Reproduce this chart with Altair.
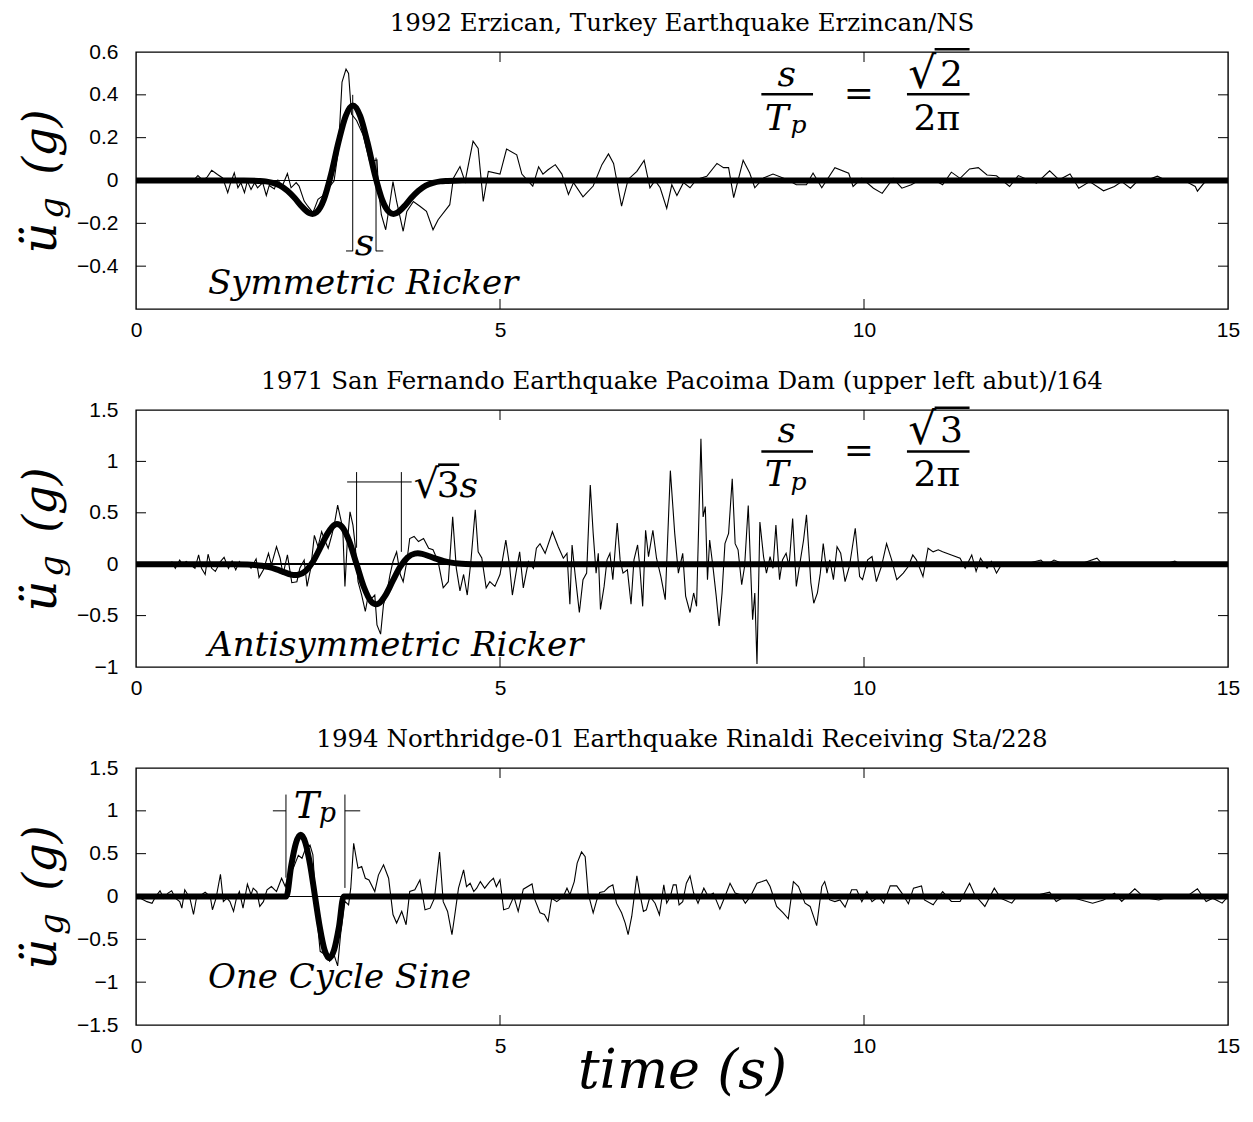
import altair as alt
import pandas as pd

# ---------------------------------------------------------------- axes
TIME_DOMAIN = [0, 15]
TIME_LABELS = [0, 5, 10, 15]
TIME_TICKS = [5, 10]

TITLES = [
    "1992 Erzican, Turkey Earthquake Erzincan/NS",
    "1971 San Fernando Earthquake Pacoima Dam (upper left abut)/164",
    "1994 Northridge-01 Earthquake Rinaldi Receiving Sta/228",
]
ACC_DOMAINS = [[-0.6, 0.6], [-1.0, 1.5], [-1.5, 1.5]]
ACC_LABELS = [
    [-0.4, -0.2, 0, 0.2, 0.4, 0.6],
    [-1, -0.5, 0, 0.5, 1, 1.5],
    [-1.5, -1, -0.5, 0, 0.5, 1, 1.5],
]
ACC_TICKS = [
    [-0.4, -0.2, 0, 0.2, 0.4],
    [-0.5, 0, 0.5, 1],
    [-1, -0.5, 0, 0.5, 1],
]

# ------------------------------------------------- recorded ground motion (t [s], a [g])
ERZ_RECORD = [
    (0.57, 0.0), (0.69, 0.008), (0.78, -0.003), (0.85, 0.023), (0.92, 0.0), (0.98, 0.017),
    (1.04, 0.048), (1.12, 0.028), (1.19, 0.012), (1.26, -0.057), (1.30, -0.01), (1.35, 0.036),
    (1.40, -0.034), (1.44, -0.01), (1.49, -0.057), (1.53, -0.003), (1.58, -0.042), (1.63, -0.01),
    (1.67, -0.034), (1.74, -0.01), (1.79, -0.07), (1.83, -0.023), (1.90, -0.039), (1.95, 0.002),
    (2.01, -0.026), (2.08, 0.033), (2.13, -0.034), (2.20, -0.01), (2.24, -0.026), (2.31, -0.096),
    (2.36, -0.12), (2.43, -0.15), (2.50, -0.088), (2.56, -0.073), (2.63, -0.042), (2.72, -0.003),
    (2.78, 0.14), (2.83, 0.46), (2.885, 0.52), (2.92, 0.50), (2.96, 0.31), (3.03, 0.28),
    (3.12, 0.212), (3.21, 0.088), (3.31, 0.096), (3.33, -0.036), (3.37, -0.16), (3.43, -0.23),
    (3.49, -0.098), (3.53, -0.005), (3.58, -0.098), (3.67, -0.237), (3.72, -0.144), (3.81, -0.098),
    (3.90, -0.12), (3.99, -0.144), (4.08, -0.23), (4.15, -0.183), (4.31, -0.113), (4.36, 0.011),
    (4.45, 0.065), (4.52, -0.005), (4.63, 0.184), (4.70, 0.15), (4.77, -0.098), (4.84, 0.042),
    (5.00, 0.03), (5.09, 0.147), (5.23, 0.12), (5.30, 0.03), (5.45, -0.026), (5.53, 0.064),
    (5.59, 0.03), (5.66, 0.05), (5.76, 0.074), (5.85, 0.03), (5.94, -0.065), (6.01, -0.01),
    (6.14, -0.076), (6.28, -0.026), (6.40, 0.074), (6.49, 0.124), (6.56, 0.08), (6.67, -0.12),
    (6.76, 0.005), (6.88, 0.043), (6.98, 0.094), (7.06, -0.034), (7.13, 0.0), (7.20, -0.034),
    (7.29, -0.13), (7.36, -0.02), (7.43, -0.07), (7.52, -0.01), (7.61, -0.034), (7.70, 0.005),
    (7.84, 0.02), (7.98, 0.08), (8.07, 0.06), (8.14, 0.06), (8.21, -0.08), (8.34, 0.094),
    (8.43, 0.035), (8.50, -0.034), (8.62, 0.012), (8.75, 0.03), (8.94, 0.005), (9.07, -0.02),
    (9.21, -0.02), (9.30, 0.035), (9.42, -0.034), (9.60, 0.06), (9.79, 0.034), (9.85, -0.028),
    (9.97, 0.01), (10.13, -0.036), (10.25, -0.06), (10.40, 0.01), (10.52, -0.036), (10.65, -0.02),
    (10.77, 0.003), (10.96, 0.003), (11.08, -0.02), (11.20, 0.039), (11.32, 0.01), (11.45, 0.054),
    (11.57, 0.06), (11.69, 0.026), (11.82, 0.022), (12.00, -0.028), (12.12, 0.023), (12.25, 0.003),
    (12.37, -0.012), (12.55, 0.045), (12.68, 0.003), (12.83, 0.03), (12.95, -0.036), (13.10, -0.005),
    (13.29, -0.048), (13.44, -0.028), (13.54, -0.005), (13.66, -0.036), (13.75, -0.005), (13.90, 0.003),
    (14.03, 0.02), (14.15, 0.0), (14.40, 0.0), (14.55, -0.028), (14.58, -0.05), (14.67, -0.012),
    (14.76, 0.0),
]

PAC_RECORD = [
    (0.49, 0.026), (0.54, -0.04), (0.60, 0.04), (0.64, -0.005), (0.69, 0.026), (0.81, -0.04),
    (0.86, 0.09), (0.90, -0.04), (0.95, -0.10), (0.99, 0.097), (1.04, -0.04), (1.09, -0.07),
    (1.16, 0.026), (1.21, 0.068), (1.27, -0.04), (1.32, 0.03), (1.37, -0.055), (1.42, 0.026),
    (1.47, -0.02), (1.54, 0.0), (1.58, -0.04), (1.65, 0.052), (1.69, -0.13), (1.75, -0.055),
    (1.82, 0.106), (1.86, -0.006), (1.93, 0.17), (1.98, 0.058), (2.02, -0.10), (2.08, 0.09),
    (2.14, -0.18), (2.21, -0.17), (2.25, -0.04), (2.31, 0.04), (2.35, -0.216), (2.40, -0.04),
    (2.45, 0.28), (2.50, 0.17), (2.55, 0.316), (2.60, 0.22), (2.64, 0.155), (2.69, 0.284),
    (2.73, 0.41), (2.77, 0.574), (2.81, 0.445), (2.84, 0.35), (2.87, -0.216), (2.90, 0.19),
    (2.94, 0.51), (2.98, 0.38), (3.01, 0.19), (3.05, -0.17), (3.10, -0.30), (3.15, -0.46),
    (3.19, -0.30), (3.24, -0.33), (3.28, -0.30), (3.31, -0.59), (3.36, -0.68), (3.40, -0.39),
    (3.44, -0.30), (3.49, -0.10), (3.53, 0.026), (3.58, 0.12), (3.63, -0.10), (3.67, -0.17),
    (3.72, 0.026), (3.76, 0.25), (3.82, 0.27), (3.88, 0.22), (3.95, 0.25), (4.02, 0.155),
    (4.08, 0.14), (4.15, 0.026), (4.22, -0.23), (4.29, -0.17), (4.35, 0.46), (4.40, -0.04),
    (4.45, -0.26), (4.50, -0.10), (4.55, -0.30), (4.60, 0.026), (4.66, 0.53), (4.70, 0.12),
    (4.75, 0.06), (4.81, -0.23), (4.86, -0.17), (4.93, -0.216), (5.00, -0.10), (5.08, 0.235),
    (5.13, -0.006), (5.17, -0.30), (5.23, -0.04), (5.27, 0.12), (5.32, -0.23), (5.39, 0.026),
    (5.46, -0.04), (5.50, 0.155), (5.55, 0.20), (5.62, 0.106), (5.72, 0.316), (5.80, 0.17),
    (5.87, 0.058), (5.92, 0.106), (5.96, -0.39), (5.99, 0.187), (6.03, -0.087), (6.09, -0.47),
    (6.14, -0.15), (6.19, -0.087), (6.24, 0.77), (6.28, 0.30), (6.32, -0.087), (6.35, 0.106),
    (6.38, -0.44), (6.43, -0.216), (6.47, 0.042), (6.51, 0.106), (6.55, -0.15), (6.61, 0.40),
    (6.65, 0.042), (6.69, -0.087), (6.75, -0.055), (6.80, -0.39), (6.84, 0.042), (6.89, 0.187),
    (6.92, -0.02), (6.96, -0.41), (7.00, 0.33), (7.04, 0.074), (7.10, 0.33), (7.15, 0.058),
    (7.21, -0.12), (7.27, -0.345), (7.34, 0.91), (7.40, 0.30), (7.45, -0.087), (7.51, 0.106),
    (7.55, -0.31), (7.61, -0.47), (7.66, -0.28), (7.70, -0.41), (7.76, 1.22), (7.79, 0.46),
    (7.82, 0.56), (7.85, -0.15), (7.88, 0.235), (7.93, -0.055), (7.97, -0.31), (8.01, -0.60),
    (8.05, -0.28), (8.09, 0.20), (8.14, 0.30), (8.19, 0.83), (8.23, 0.20), (8.27, 0.14),
    (8.32, -0.20), (8.36, -0.02), (8.41, 0.57), (8.47, -0.54), (8.50, -0.28), (8.53, -0.97),
    (8.57, 0.41), (8.62, 0.074), (8.66, -0.087), (8.71, 0.074), (8.75, -0.04), (8.79, 0.38),
    (8.84, -0.15), (8.88, 0.042), (8.93, 0.106), (8.97, -0.02), (9.02, 0.445), (9.07, -0.216),
    (9.12, 0.01), (9.17, 0.235), (9.21, 0.48), (9.27, -0.18), (9.31, -0.38), (9.36, -0.28),
    (9.40, -0.087), (9.44, 0.20), (9.49, -0.087), (9.53, 0.042), (9.58, -0.15), (9.63, 0.17),
    (9.68, 0.106), (9.74, -0.17), (9.80, -0.02), (9.88, 0.35), (9.94, -0.12), (9.98, -0.15),
    (10.05, 0.042), (10.11, 0.074), (10.17, -0.17), (10.24, -0.02), (10.31, 0.20), (10.38, 0.042),
    (10.45, -0.15), (10.54, -0.087), (10.61, -0.02), (10.67, 0.09), (10.72, 0.042), (10.81, -0.12),
    (10.88, 0.155), (10.95, 0.12), (11.02, 0.14), (11.08, 0.12), (11.20, 0.09), (11.32, 0.058),
    (11.39, -0.04), (11.48, 0.09), (11.54, -0.07), (11.60, 0.058), (11.69, -0.04), (11.75, 0.026),
    (11.82, -0.087), (11.90, 0.01), (12.06, -0.013), (12.20, 0.0), (12.43, 0.04), (12.50, -0.01),
    (12.61, 0.04), (12.75, 0.0), (13.00, 0.01), (13.20, 0.058), (13.30, -0.02), (13.60, 0.0),
    (14.02, -0.02), (14.27, 0.03), (14.40, -0.02),
]

RRS_RECORD = [
    (0.01, 0.0), (0.06, -0.02), (0.15, -0.06), (0.22, -0.08), (0.27, 0.0), (0.33, 0.066),
    (0.38, -0.02), (0.44, 0.04), (0.49, 0.066), (0.54, -0.02), (0.60, -0.06), (0.63, -0.136),
    (0.67, 0.078), (0.74, -0.02), (0.79, -0.21), (0.83, -0.02), (0.95, 0.05), (1.02, 0.0),
    (1.05, -0.155), (1.10, -0.02), (1.16, 0.26), (1.20, -0.06), (1.25, -0.02), (1.29, -0.06),
    (1.34, -0.174), (1.38, -0.02), (1.42, 0.058), (1.47, -0.136), (1.53, 0.143), (1.58, 0.02),
    (1.61, 0.097), (1.66, 0.058), (1.70, -0.116), (1.75, -0.06), (1.80, 0.078), (1.86, 0.116),
    (1.93, 0.058), (2.00, 0.213), (2.05, 0.116), (2.09, 0.25), (2.16, 0.33), (2.23, 0.48),
    (2.28, 0.446), (2.32, 0.54), (2.39, 0.60), (2.43, 0.485), (2.48, -0.21), (2.53, -0.64),
    (2.60, -0.68), (2.66, -0.756), (2.72, -0.68), (2.77, -0.81), (2.81, -0.446), (2.87, -0.058),
    (2.92, -0.097), (2.95, 0.097), (2.99, 0.62), (3.05, 0.33), (3.10, 0.35), (3.15, 0.213),
    (3.20, 0.194), (3.28, 0.058), (3.33, 0.25), (3.40, 0.37), (3.47, 0.213), (3.53, -0.21),
    (3.58, -0.31), (3.65, -0.174), (3.71, -0.33), (3.76, 0.058), (3.83, 0.078), (3.90, 0.194),
    (3.97, -0.155), (4.04, -0.136), (4.10, -0.02), (4.17, 0.52), (4.22, -0.06), (4.28, -0.174),
    (4.34, -0.446), (4.38, -0.21), (4.43, 0.097), (4.50, 0.31), (4.54, 0.116), (4.59, 0.155),
    (4.64, 0.058), (4.68, 0.097), (4.73, 0.174), (4.79, 0.097), (4.86, 0.174), (4.91, 0.213),
    (4.95, 0.116), (5.00, 0.194), (5.05, -0.155), (5.12, -0.136), (5.19, 0.0), (5.25, -0.174),
    (5.32, 0.085), (5.44, 0.147), (5.48, -0.04), (5.55, -0.19), (5.61, -0.21), (5.66, -0.29),
    (5.71, -0.02), (5.78, -0.06), (5.87, 0.0), (5.92, 0.097), (5.96, 0.02), (6.02, 0.174),
    (6.06, 0.39), (6.12, 0.52), (6.17, 0.465), (6.21, 0.04), (6.28, -0.19), (6.33, -0.04),
    (6.37, 0.047), (6.43, 0.058), (6.49, 0.108), (6.55, 0.136), (6.60, -0.078), (6.67, -0.19),
    (6.72, -0.31), (6.76, -0.446), (6.81, -0.23), (6.88, 0.24), (6.92, 0.04), (6.97, -0.174),
    (7.01, -0.155), (7.06, 0.0), (7.13, -0.078), (7.19, -0.213), (7.25, 0.136), (7.29, -0.078),
    (7.34, 0.0), (7.38, 0.136), (7.42, 0.136), (7.46, -0.097), (7.51, -0.06), (7.56, 0.155),
    (7.61, 0.24), (7.66, 0.04), (7.72, -0.078), (7.80, 0.097), (7.86, 0.0), (7.93, 0.04),
    (8.02, -0.147), (8.09, 0.0), (8.16, 0.155), (8.23, 0.04), (8.30, 0.02), (8.37, -0.078),
    (8.44, 0.0), (8.53, 0.155), (8.60, 0.174), (8.66, 0.194), (8.71, 0.116), (8.80, -0.116),
    (8.89, -0.19), (8.96, -0.26), (9.03, 0.174), (9.10, 0.116), (9.19, -0.078), (9.26, -0.116),
    (9.35, -0.34), (9.42, 0.116), (9.46, 0.174), (9.53, -0.04), (9.60, -0.06), (9.67, -0.04),
    (9.74, -0.124), (9.83, 0.078), (9.90, 0.078), (9.97, -0.06), (10.04, 0.058), (10.11, -0.06),
    (10.20, 0.0), (10.27, -0.078), (10.36, 0.124), (10.45, 0.124), (10.52, 0.04), (10.61, -0.085),
    (10.68, 0.097), (10.79, 0.124), (10.83, -0.04), (10.95, -0.097), (11.08, 0.058), (11.20, -0.058),
    (11.32, -0.058), (11.45, 0.155), (11.52, 0.02), (11.66, -0.116), (11.79, 0.097), (11.88, -0.02),
    (12.03, -0.078), (12.12, 0.02), (12.30, 0.0), (12.55, 0.05), (12.64, -0.058), (12.76, 0.0),
    (12.92, -0.027), (13.14, -0.078), (13.29, -0.04), (13.44, 0.039), (13.54, -0.058), (13.72, 0.09),
    (13.81, 0.02), (13.90, -0.02), (14.05, -0.04), (14.21, 0.0), (14.40, -0.02), (14.58, 0.09),
    (14.70, -0.058), (14.79, -0.02), (14.92, -0.078), (15.00, 0.0),
]

# ------------------------------------------------- idealised pulses (t [s], a [g])
ERZ_PULSE = [
    (0.0, 0.0), (1.48, 0.0), (1.68, -0.002), (1.78, -0.004), (1.88, -0.011), (1.98, -0.024),
    (2.08, -0.048), (2.18, -0.082), (2.28, -0.122), (2.38, -0.152), (2.423, -0.156), (2.48, -0.148),
    (2.58, -0.089), (2.68, 0.029), (2.78, 0.177), (2.88, 0.301), (2.98, 0.350), (3.08, 0.301),
    (3.18, 0.177), (3.28, 0.029), (3.38, -0.089), (3.48, -0.148), (3.537, -0.156), (3.58, -0.152),
    (3.68, -0.122), (3.78, -0.082), (3.88, -0.048), (3.98, -0.024), (4.08, -0.011), (4.18, -0.004),
    (4.28, -0.002), (4.48, 0.0), (15.0, 0.0),
]
PAC_PULSE = [
    (0.0, 0.0), (1.33, 0.0), (1.53, -0.003), (1.63, -0.007), (1.73, -0.015), (1.83, -0.029),
    (1.93, -0.051), (2.03, -0.077), (2.13, -0.101), (2.19, -0.106), (2.23, -0.103), (2.33, -0.066),
    (2.43, 0.024), (2.53, 0.158), (2.63, 0.298), (2.73, 0.384), (2.76, 0.390), (2.83, 0.363),
    (2.93, 0.222), (3.03, 0.0), (3.13, -0.222), (3.23, -0.363), (3.30, -0.390), (3.33, -0.384),
    (3.43, -0.298), (3.53, -0.158), (3.63, -0.024), (3.73, 0.066), (3.83, 0.103), (3.87, 0.106),
    (3.93, 0.101), (4.03, 0.077), (4.13, 0.051), (4.23, 0.029), (4.33, 0.015), (4.43, 0.007),
    (4.53, 0.003), (4.73, 0.0), (15.0, 0.0),
]
RRS_PULSE = [
    (0.0, 0.0), (2.066, 0.0), (2.132, 0.36), (2.197, 0.624), (2.263, 0.72), (2.328, 0.624),
    (2.394, 0.36), (2.459, 0.0), (2.525, -0.36), (2.590, -0.624), (2.656, -0.72), (2.721, -0.624),
    (2.787, -0.36), (2.852, 0.0), (15.0, 0.0),
]

# ------------------------------------------------- styling
PLOT_W, PLOT_H = 1092, 257
TICK_PX = 10
SERIF = "DejaVu Serif"
SANS = "Liberation Sans"

# annotations per panel, in data units
# lines: (t, g, t2, g2, width)
# texts: (t, g, text, fontsize, style, align)
ANNOT = [
    {
        "lines": [
            (2.977, 0.40, 2.977, -0.33, 1), (3.297, 0.107, 3.297, -0.33, 1),
            (2.885, -0.329, 2.977, -0.329, 1), (3.297, -0.329, 3.397, -0.329, 1),
            (8.59, 0.403, 9.30, 0.403, 2.6), (10.59, 0.403, 11.45, 0.403, 2.6),
            (10.97, 0.613, 11.45, 0.613, 2.6),
        ],
        "texts": [
            (3.14, -0.35, "s", 38, "italic", "center"),
            (0.99, -0.53, "Symmetric Ricker", 34, "italic", "left"),
            (8.94, 0.439, "s", 36, "italic", "center"),
            (8.80, 0.237, "T", 36, "italic", "center"),
            (9.10, 0.223, "p", 25, "italic", "center"),
            (9.93, 0.353, "=", 36, "normal", "center"),
            (10.80, 0.43, "\u221a", 44, "normal", "center"),
            (11.20, 0.439, "2", 36, "normal", "center"),
            (11.00, 0.237, "2\u03c0", 36, "normal", "center"),
        ],
    },
    {
        "lines": [
            (3.03, 0.896, 3.03, 0.16, 1), (3.645, 0.896, 3.645, 0.12, 1),
            (2.90, 0.80, 3.787, 0.80, 1),
            (4.15, 0.968, 4.44, 0.968, 2.6),
            (8.59, 1.097, 9.30, 1.097, 2.6), (10.59, 1.097, 11.45, 1.097, 2.6),
            (10.97, 1.522, 11.45, 1.522, 2.6),
        ],
        "texts": [
            (3.99, 0.645, "\u221a", 40, "normal", "center"),
            (4.29, 0.654, "3", 36, "normal", "center"),
            (4.57, 0.654, "s", 36, "italic", "center"),
            (0.99, -0.89, "Antisymmetric Ricker", 34, "italic", "left"),
            (8.94, 1.187, "s", 36, "italic", "center"),
            (8.80, 0.761, "T", 36, "italic", "center"),
            (9.10, 0.718, "p", 25, "italic", "center"),
            (9.93, 0.99, "=", 36, "normal", "center"),
            (10.80, 1.168, "\u221a", 44, "normal", "center"),
            (11.20, 1.187, "3", 36, "normal", "center"),
            (11.00, 0.761, "2\u03c0", 36, "normal", "center"),
        ],
    },
    {
        "lines": [
            (2.06, 1.19, 2.06, 0.22, 1), (2.87, 1.19, 2.87, 0.10, 1),
            (1.88, 1.0, 2.06, 1.0, 1), (2.87, 1.0, 3.08, 1.0, 1),
        ],
        "texts": [
            (2.34, 0.915, "T", 38, "italic", "center"),
            (2.63, 0.87, "p", 27, "italic", "center"),
            (0.99, -1.065, "One Cycle Sine", 34, "italic", "left"),
        ],
    },
]


def panel(i, record, pulse, last):
    lo, hi = ACC_DOMAINS[i]
    xs = alt.Scale(domain=TIME_DOMAIN, nice=False, zero=False)
    ys = alt.Scale(domain=[lo, hi], nice=False, zero=False)
    x_axis_kw = dict(values=TIME_LABELS, ticks=False, domain=False, grid=False, format="~g",
                     labelFlush=False, labelOverlap=False, labelPadding=10,
                     labelFont=SANS, labelFontSize=21, labelColor="black")
    if last:
        xax = alt.Axis(title="time (s)", titleFont=SERIF, titleFontStyle="italic",
                       titleFontWeight="normal", titleFontSize=54, titleColor="black",
                       titleY=62, titleBaseline="alphabetic", **x_axis_kw)
    else:
        xax = alt.Axis(title=None, **x_axis_kw)
    yax = alt.Axis(values=ACC_LABELS[i], ticks=False, domain=False, grid=False, format="~g",
                   labelFlush=False, labelOverlap=False, labelPadding=18,
                   labelFont=SANS, labelFontSize=21, labelColor="black", title=None)
    X = alt.X("t:Q", scale=xs, axis=xax)
    Y = alt.Y("g:Q", scale=ys, axis=yax)

    rec = pd.DataFrame(record, columns=["t", "g"])
    pul = pd.DataFrame(pulse, columns=["t", "g"])

    # inward tick marks on all four sides
    ty = TICK_PX * (hi - lo) / PLOT_H
    tx = TICK_PX * (TIME_DOMAIN[1] - TIME_DOMAIN[0]) / PLOT_W
    ticks = []
    for v in TIME_TICKS:
        ticks += [(v, lo, v, lo + ty), (v, hi, v, hi - ty)]
    for v in ACC_TICKS[i]:
        ticks += [(0, v, tx, v), (15, v, 15 - tx, v)]
    tick_df = pd.DataFrame(ticks, columns=["t", "g", "t2", "g2"])

    ann = ANNOT[i]
    line_df = pd.DataFrame(ann["lines"], columns=["t", "g", "t2", "g2", "w"])
    text_df = pd.DataFrame(ann["texts"], columns=["t", "g", "label", "fs", "style", "align"])

    layers = [
        alt.Chart(rec).mark_rule(color="black", strokeWidth=1).encode(y=alt.datum(0, scale=ys)),
        alt.Chart(rec).mark_line(color="black", strokeWidth=1.1).encode(x=X, y=Y),
        alt.Chart(pul).mark_line(color="black", strokeWidth=6, interpolate="monotone").encode(x=X, y=Y),
        alt.Chart(tick_df).mark_rule(color="black", strokeWidth=1).encode(
            x=X, y=Y, x2="t2:Q", y2="g2:Q"),
    ]
    for w in sorted(line_df["w"].unique()):
        layers.append(
            alt.Chart(line_df[line_df["w"] == w]).mark_rule(color="black", strokeWidth=float(w)).encode(
                x=X, y=Y, x2="t2:Q", y2="g2:Q"))
    for (style, align), sub in text_df.groupby(["style", "align"]):
        layers.append(
            alt.Chart(sub).mark_text(font=SERIF, fontStyle=style, align=align,
                                     baseline="alphabetic", color="black").encode(
                x=X, y=Y, text="label:N", size=alt.Size("fs:Q", scale=None, legend=None)))

    # rotated axis label  ü_g (g)
    one = pd.DataFrame({"k": [0]})
    for txt, fs, px, py in [("\u00fc", 48, -80, 186), ("g", 34, -73, 156), ("(g)", 46, -80, 90)]:
        layers.append(
            alt.Chart(one).mark_text(text=txt, font=SERIF, fontStyle="italic", fontSize=fs,
                                     angle=270, align="center", baseline="alphabetic",
                                     color="black").encode(x=alt.value(px), y=alt.value(py)))

    return alt.layer(*layers).properties(
        width=PLOT_W, height=PLOT_H,
        title=alt.TitleParams(TITLES[i], font=SERIF, fontSize=24.5, fontWeight="normal",
                              color="black", anchor="middle", frame="group", offset=5),
    )


chart = alt.vconcat(
    panel(0, ERZ_RECORD, ERZ_PULSE, False),
    panel(1, PAC_RECORD, PAC_PULSE, False),
    panel(2, RRS_RECORD, RRS_PULSE, True),
    spacing=26,
).properties(
    padding={"left": 17, "top": 9, "right": 5, "bottom": 5},
    background="white",
).configure_view(stroke="black", strokeWidth=1.4)

chart.save("out.html", embed_options={"renderer": "svg", "actions": False})
